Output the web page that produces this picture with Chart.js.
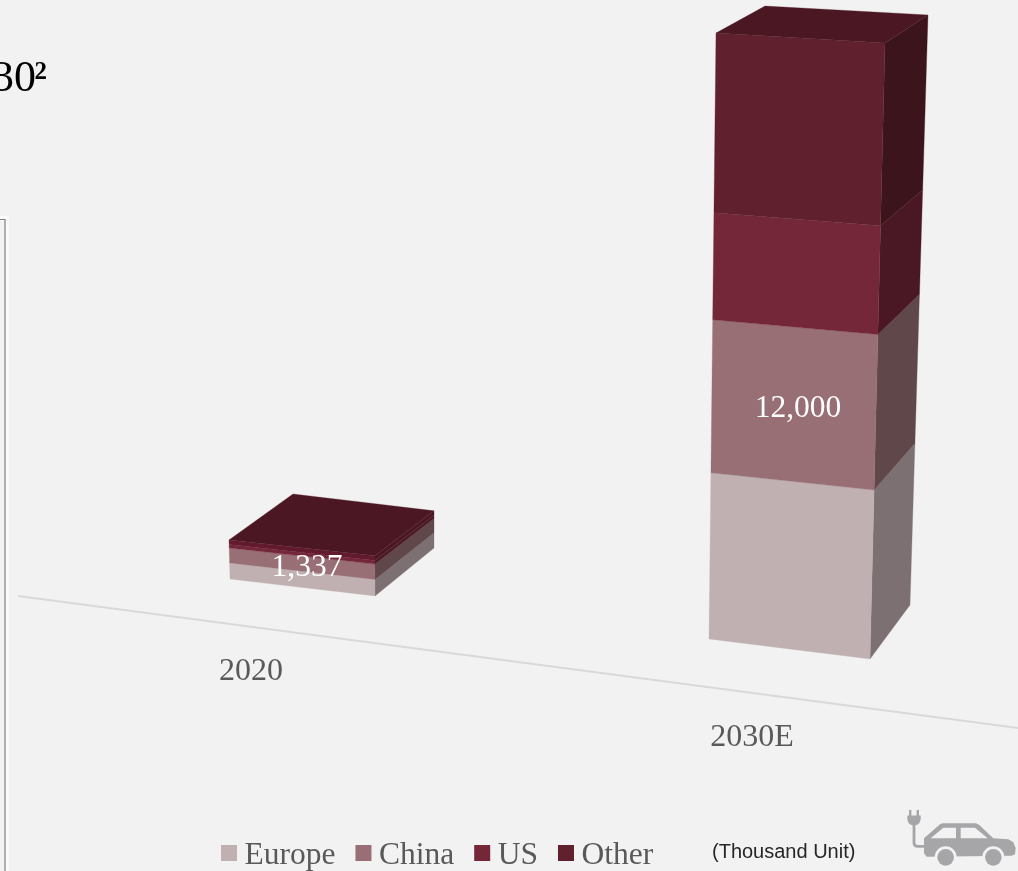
<!DOCTYPE html>
<html><head><meta charset="utf-8">
<style>html,body{margin:0;padding:0;background:#F2F2F2;width:1018px;height:871px;overflow:hidden}canvas{display:block}</style>
<script src="https://cdn.jsdelivr.net/npm/chart.js@4"></script>
</head><body>
<canvas id="c" width="1018" height="871"></canvas>
<script>
// ---- data ----
const categories = ['2020', '2030E'];
const europe = [550, 3290];
const china = [510, 3030];
const us = [120, 2120];
const other = [157, 3560];
const totals = [1337, 12000];
const seriesNames = ['Europe', 'China', 'US', 'Other'];
// ---- styles ----
const frontColors = ['#C0B0B2', '#976F75', '#75273A', '#61202D'];
const sideColors = ['#7D7072', '#5F474A', '#4A1724', '#3C141C'];
const topColor = '#4A1723';
const serif = '"Liberation Serif", "Times New Roman", serif';
// 3-D projection of each category's column (offsets from the library's own bar geometry)
const cameras = [
  {dx:0, dy:-51.5, widthScale:0.9006, vScale:0.578, floorSlope:0.117, leanL:-0.0256, leanR:0, riseR:1.03,
   depthBottom:[59,-48], depthTop:[59,-45], depthSkew:[5,-1], labelDx:-51.5, labelY:680, totalDx:4.5, totalY:576,
   otherFront:'#641A2E', otherSide:'#4A1723'},
  {dx:0, dy:10, widthScale:1, vScale:1, floorSlope:0.124, leanL:0.01155, leanR:0.02475, riseR:1.0165,
   depthBottom:[40,-54], depthTop:[43,-28], depthSkew:[6,1], labelDx:-37.5, labelY:746, totalDx:8.5, totalY:417,
   otherFront:'#61202D', otherSide:'#3C141C'}
];
const lerp=(a,b,t)=>a+(b-a)*t;
function project(cam, bar, zero, u, h, d, totalH){
  const half=bar.width*cam.widthScale/2, cx=bar.x+cam.dx, cy=zero+cam.dy;
  const lx=cx-half+cam.leanL*h, ly=cy-cam.floorSlope*half-h;
  const rx=cx+half+cam.leanR*h, ry=cy+cam.floorSlope*half-h*cam.riseR;
  let x=lerp(lx,rx,u), y=lerp(ly,ry,u);
  if(d){
    const t=h/totalH;
    x+=lerp(cam.depthBottom[0],cam.depthTop[0],t)+(1-u)*cam.depthSkew[0];
    y+=lerp(cam.depthBottom[1],cam.depthTop[1],t)+(1-u)*cam.depthSkew[1];
  }
  return [x,y];
}
function quad(ctx,pts,color){
  ctx.beginPath();ctx.moveTo(pts[0][0],pts[0][1]);
  for(let i=1;i<pts.length;i++)ctx.lineTo(pts[i][0],pts[i][1]);
  ctx.closePath();ctx.fillStyle=color;ctx.strokeStyle=color;ctx.lineWidth=0.3;ctx.fill();ctx.stroke();
}
function drawCar(ctx){
  const c='#A6A6A9';const P=(zx,zy)=>[900+zx/3,805+zy/3];
  ctx.save();ctx.fillStyle=c;ctx.strokeStyle=c;ctx.lineCap='butt';ctx.lineJoin='round';
  // plug
  ctx.fillRect(909,810,2.4,6);ctx.fillRect(916.6,810,2.4,6);
  ctx.beginPath();ctx.moveTo(907.3,815.5);ctx.lineTo(920.7,815.5);ctx.lineTo(920.7,819);ctx.quadraticCurveTo(920,825,914,825.5);ctx.quadraticCurveTo(908,825,907.3,819);ctx.closePath();ctx.fill();
  ctx.lineWidth=2.8;ctx.beginPath();ctx.moveTo(914,825);ctx.lineTo(914,843);ctx.quadraticCurveTo(914,846.3,918,846.3);ctx.lineTo(926,846.3);ctx.stroke();
  // body
  const body=[[72,100],[120,58],[128,55],[228,55],[238,60],[280,100],[325,103],[340,112],[347,130],[345,148],[335,152],[80,155],[72,145]].map(p=>P(p[0],p[1]));
  ctx.beginPath();body.forEach((p,i)=>i?ctx.lineTo(p[0],p[1]):ctx.moveTo(p[0],p[1]));ctx.closePath();ctx.fill();
  ctx.fillStyle='#F2F2F2';
  [[[92,100],[130,68],[168,68],[168,100]],[[182,68],[225,68],[263,100],[182,100]]].forEach(w=>{
    ctx.beginPath();w.map(p=>P(p[0],p[1])).forEach((p,i)=>i?ctx.lineTo(p[0],p[1]):ctx.moveTo(p[0],p[1]));ctx.closePath();ctx.fill();});
  [[137,157],[280,157]].forEach(w=>{const p=P(w[0],w[1]);
    ctx.fillStyle='#F2F2F2';ctx.beginPath();ctx.arc(p[0],p[1],11,0,Math.PI*2);ctx.fill();
    ctx.fillStyle=c;ctx.beginPath();ctx.arc(p[0],p[1],8.3,0,Math.PI*2);ctx.fill();});
  ctx.restore();
}
const columns3d = {
  id:'columns3d',
  beforeDatasetsDraw(chart){
    const ctx=chart.ctx, yS=chart.scales.y, zero=yS.getPixelForValue(0);
    ctx.save();
    // background furniture
    ctx.fillStyle='#FAFAFA';ctx.fillRect(0,216,9,655);
    ctx.fillStyle='#F2F2F2';ctx.fillRect(0,221,4,650);
    ctx.strokeStyle='#7F7F7F';ctx.lineWidth=1.2;ctx.beginPath();ctx.moveTo(0,219.5);ctx.lineTo(5,219.5);ctx.lineTo(5,871);ctx.stroke();
    // floor line
    ctx.strokeStyle='#D9D9D9';ctx.lineWidth=1.8;ctx.beginPath();ctx.moveTo(18,596);ctx.lineTo(1018,728);ctx.stroke();
    categories.forEach((cat,i)=>{
      const cam=cameras[i];
      const n=chart.data.datasets.length;
      const topBar=chart.getDatasetMeta(n-1).data[i];
      const totalH=(zero-topBar.y)*cam.vScale;
      for(let ds=0;ds<n;ds++){
        const bar=chart.getDatasetMeta(ds).data[i];
        const h0=(zero-bar.base)*cam.vScale, h1=(zero-bar.y)*cam.vScale;
        const p=(u,h,d)=>project(cam,bar,zero,u,h,d,totalH);
        const last=ds===n-1;
        quad(ctx,[p(1,h0,0),p(1,h0,1),p(1,h1,1),p(1,h1,0)],last?cam.otherSide:sideColors[ds]);
        quad(ctx,[p(0,h0,0),p(1,h0,0),p(1,h1,0),p(0,h1,0)],last?cam.otherFront:frontColors[ds]);
      }
      const p=(u,d)=>project(cam,topBar,zero,u,totalH,d,totalH);
      quad(ctx,[p(0,0),p(1,0),p(1,1),p(0,1)],topColor);
      // category label and total label
      const cx=topBar.x;
      ctx.font='32px '+serif;ctx.textAlign='center';ctx.textBaseline='alphabetic';
      ctx.fillStyle='#595959';ctx.fillText(cat,cx+cam.labelDx,cam.labelY);
      ctx.font='31.5px '+serif;ctx.fillStyle='#FFFFFF';
      ctx.fillText(totals[i].toLocaleString('en-US'),cx+cam.totalDx,cam.totalY);
    });
    // legend
    let x=221;ctx.textAlign='left';ctx.font='31.5px '+serif;
    chart.data.datasets.forEach((d,i)=>{
      ctx.fillStyle=frontColors[i];ctx.fillRect(x,845,16,16);
      ctx.fillStyle='#595959';ctx.fillText(d.label,x+23.5,864);
      x+=23.5+ctx.measureText(d.label).width+20;
    });
    // title fragment and unit note
    ctx.fillStyle='#000000';ctx.font='44px '+serif;ctx.fillText('30',-8,91);
    ctx.font='bold 25px '+serif;ctx.fillText('2',34.5,79);
    ctx.fillStyle='#262626';ctx.font='20px "Liberation Sans", Arial, sans-serif';ctx.fillText('(Thousand Unit)',712,858);
    drawCar(ctx);
    ctx.restore();
    return false;
  }
};
const seriesValues=[europe,china,us,other];
new Chart(document.getElementById('c'),{
  type:'bar',
  data:{labels:categories,datasets:seriesNames.map((name,i)=>({label:name,data:seriesValues[i],backgroundColor:frontColors[i],barThickness:161}))},
  options:{
    responsive:false,animation:false,devicePixelRatio:1,
    layout:{padding:{left:302.5,right:228.5,top:33,bottom:232}},
    plugins:{legend:{display:false},tooltip:{enabled:false},title:{display:false}},
    scales:{
      x:{display:false,stacked:true,offset:false},
      y:{display:false,stacked:true,min:0,max:12000}
    }
  },
  plugins:[columns3d]
});
</script>
</body></html>
